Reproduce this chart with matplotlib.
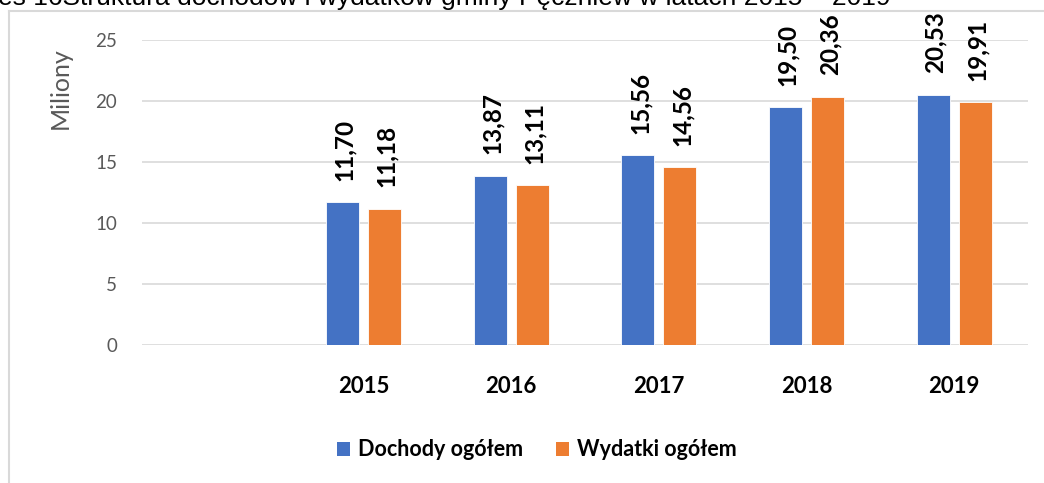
#!/usr/bin/env python3
"""Dochody i wydatki gminy Pęczniew 2015-2019 — grouped bar chart."""

import numpy as np
import matplotlib
matplotlib.use("Agg")
import matplotlib.pyplot as plt
from matplotlib.lines import Line2D
from matplotlib.patches import Patch

# first slot is an empty category, as in the source sheet
YEARS = ["", "2015", "2016", "2017", "2018", "2019"]
DOCHODY = [np.nan, 11.70, 13.87, 15.56, 19.50, 20.53]
WYDATKI = [np.nan, 11.18, 13.11, 14.56, 20.36, 19.91]
SERIES = ["Dochody ogółem", "Wydatki ogółem"]
YTICKS = [0, 5, 10, 15, 20, 25]
TITLE = "es 16Struktura dochodów i wydatków gminy Pęczniew w latach 2015 – 2019"

BLUE = "#4472C4"
ORANGE = "#ED7D31"
GRID = "#D9D9D9"
GREY_TXT = "#595959"
FONT = ["Lato", "DejaVu Sans"]

W, H = 1044, 483


def fmt(v):
    return f"{v:.2f}".replace(".", ",")


def main():
    fig = plt.figure(figsize=(W / 100, H / 100), dpi=100)
    ax = fig.add_axes([142 / W, 1 - 345 / H, (1028 - 142) / W, (345 - 40) / H])

    x = np.arange(len(YEARS))
    bw, off = 0.223, 0.142
    for vals, dx, col in [(DOCHODY, -off, BLUE), (WYDATKI, off, ORANGE)]:
        ax.bar(x + dx, vals, width=bw, color=col, edgecolor="white",
               linewidth=0.6, zorder=3)
        for xi, v in zip(x, vals):
            if np.isnan(v):
                continue
            ax.annotate(fmt(v), xy=(xi + dx, v), xytext=(1.5, 15.5),
                        textcoords="offset points", rotation=90,
                        ha="center", va="bottom", fontsize=17.5,
                        fontweight="bold", family=FONT, color="black",
                        annotation_clip=False)

    ax.set_xlim(-0.5, len(YEARS) - 0.5)
    ax.set_ylim(0, 25)
    ax.set_yticks(YTICKS)
    ax.set_yticklabels([str(t) for t in YTICKS], family=FONT, fontsize=13.5,
                       color=GREY_TXT)
    ax.set_xticks(x)
    ax.set_xticklabels(YEARS, family=FONT, fontsize=16, fontweight="bold",
                       color="black")
    ax.tick_params(axis="y", length=0, pad=18)
    ax.tick_params(axis="x", length=0, pad=22)
    ax.grid(axis="y", color=GRID, linewidth=1.2, zorder=0)
    for s in ax.spines.values():
        s.set_visible(False)

    fig.text(60 / W, 1 - 88 / H, "Miliony", rotation=90, ha="center",
             va="center", family=FONT, fontsize=18, color=GREY_TXT)

    handles = [Patch(facecolor=BLUE), Patch(facecolor=ORANGE)]
    fig.legend(handles, SERIES, loc="center", bbox_to_anchor=(537 / W, 1 - 450 / H),
               ncol=2, frameon=False, handlelength=0.6, handleheight=0.6,
               handletextpad=0.4, columnspacing=1.5,
               prop={"family": FONT, "size": 15.5, "weight": "bold"})

    # chart-area border (top and left edges only are visible)
    fig.add_artist(Line2D([9 / W, 1], [1 - 11 / H, 1 - 11 / H], color=GRID,
                          linewidth=1.5, transform=fig.transFigure))
    fig.add_artist(Line2D([9 / W, 9 / W], [0, 1 - 11 / H], color=GRID,
                          linewidth=1.5, transform=fig.transFigure))

    fig.text(-2 / W, 1 - 5 / H, TITLE, ha="left", va="baseline",
             family=["Liberation Sans", "DejaVu Sans"], fontsize=19,
             color="black")

    fig.savefig("out.png", dpi=100)
    plt.close(fig)


if __name__ == "__main__":
    main()
